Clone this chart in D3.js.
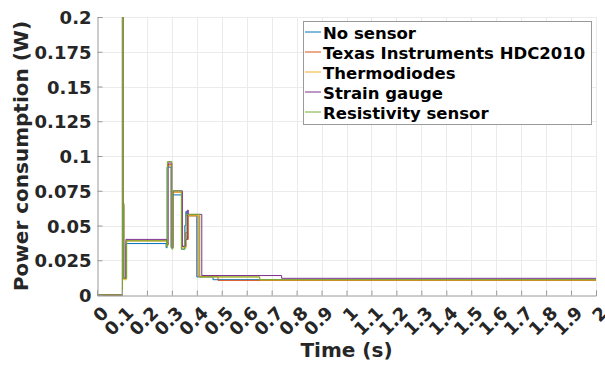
<!DOCTYPE html>
<html>
<head>
<meta charset="utf-8">
<script src="https://cdn.jsdelivr.net/npm/d3@7"></script>
<style>
body { margin: 0; background: #fff; }
text { font-family: "DejaVu Sans", sans-serif; font-weight: bold; }
</style>
</head>
<body>
<div id="graph"></div>
<script>
// series names and colours (MATLAB default order)
var seriesNames = ["No sensor", "Texas Instruments HDC2010", "Thermodiodes", "Strain gauge", "Resistivity sensor"];
var seriesColors = ["#0072BD", "#D95319", "#EDB120", "#7E2F8E", "#77AC30"];

// [time (s), power (W)], step after each point
var noSensor = [[0,0],[0.102,0.26],[0.104,0.064],[0.107,0.012],[0.116,0.037],[0.277,0.034],[0.281,0.092],[0.297,0.034],[0.302,0.072],[0.339,0.033],[0.352,0.05],[0.356,0.06],[0.36,0.057],[0.4,0.013],[0.465,0.011],[2,0.011]];
var hdc2010 = [[0,0],[0.102,0.26],[0.104,0.065],[0.107,0.012],[0.118,0.039],[0.279,0.036],[0.283,0.094],[0.298,0.035],[0.303,0.074],[0.34,0.035],[0.355,0.045],[0.362,0.04],[0.366,0.057],[0.405,0.0135],[0.485,0.0105],[2,0.0105]];
var thermodiodes = [[0,0],[0.102,0.26],[0.104,0.066],[0.107,0.011],[0.117,0.039],[0.28,0.035],[0.284,0.093],[0.299,0.034],[0.304,0.074],[0.341,0.034],[0.357,0.042],[0.363,0.057],[0.41,0.013],[0.652,0.0108],[2,0.0108]];
var strainGauge = [[0,0],[0.102,0.26],[0.104,0.066],[0.107,0.012],[0.116,0.040],[0.28,0.036],[0.285,0.095],[0.3,0.034],[0.305,0.075],[0.342,0.035],[0.356,0.04],[0.362,0.061],[0.366,0.058],[0.42,0.014],[0.74,0.012],[2,0.012]];
var resistivity = [[0,0],[0.102,0.26],[0.104,0.065],[0.107,0.012],[0.119,0.039],[0.279,0.035],[0.282,0.096],[0.3,0.033],[0.304,0.075],[0.338,0.033],[0.352,0.04],[0.357,0.058],[0.412,0.013],[0.652,0.011],[2,0.011]];

var seriesData = [noSensor, hdc2010, thermodiodes, strainGauge, resistivity];

var xTicks = d3.range(0, 21).map(function(i){ return i / 10; });
var yTicks = [0, 0.025, 0.05, 0.075, 0.1, 0.125, 0.15, 0.175, 0.2];
var yTickLabels = ["0", "0.025", "0.05", "0.075", "0.1", "0.125", "0.15", "0.175", "0.2"];

var W = 605, H = 365;
var pLeft = 97, pRight = 596, pTop = 17, pBottom = 295;

var svg = d3.select("#graph").append("svg")
  .attr("width", W).attr("height", H);

var x = d3.scaleLinear().domain([0, 2]).range([pLeft, pRight]);
var y = d3.scaleLinear().domain([0, 0.2]).range([pBottom, pTop]);

// grid
svg.append("g").selectAll("line.gx")
  .data(xTicks.slice(1))
  .enter().append("line")
  .attr("x1", function(d){ return Math.round(x(d)) + 0.5; }).attr("x2", function(d){ return Math.round(x(d)) + 0.5; })
  .attr("y1", pTop).attr("y2", pBottom)
  .attr("stroke", "#ebebeb").attr("stroke-width", 1);
svg.append("g").selectAll("line.gy")
  .data(yTicks.slice(1))
  .enter().append("line")
  .attr("x1", pLeft).attr("x2", pRight)
  .attr("y1", function(d){ return Math.round(y(d)) + 0.5; }).attr("y2", function(d){ return Math.round(y(d)) + 0.5; })
  .attr("stroke", "#ebebeb").attr("stroke-width", 1);

// clip
svg.append("clipPath").attr("id", "clip")
  .append("rect").attr("x", pLeft).attr("y", pTop).attr("width", pRight - pLeft).attr("height", pBottom - pTop + 1);

var line = d3.line()
  .x(function(d){ return x(d[0]); })
  .y(function(d){ return y(d[1]); })
  .curve(d3.curveStepAfter);

svg.append("g").attr("clip-path", "url(#clip)")
  .selectAll("path")
  .data(seriesData)
  .enter().append("path")
  .attr("d", line)
  .attr("fill", "none")
  .attr("stroke", function(d, i){ return seriesColors[i]; })
  .attr("stroke-width", 1);

// x axis
var xAxis = d3.axisBottom(x).tickValues(xTicks).tickSize(-5).tickPadding(0)
  .tickFormat(function(d){ return String(Math.round(d * 10) / 10); });
var gx = svg.append("g").attr("transform", "translate(0," + (pBottom + 0.5) + ")").call(xAxis);
gx.select(".domain").attr("stroke", "#9a9a9a");
gx.selectAll(".tick line").attr("stroke", "#9a9a9a");
gx.selectAll(".tick text")
  .attr("x", 0).attr("y", 0).attr("dy", null)
  .attr("dominant-baseline", "central")
  .attr("text-anchor", "end")
  .attr("transform", "translate(7.5,14) rotate(-45)")
  .attr("fill", "#262626")
  .style("font-size", "18px");

// y axis
var yAxis = d3.axisLeft(y).tickValues(yTicks).tickSize(-5).tickPadding(6)
  .tickFormat(function(d, i){ return yTickLabels[i]; });
var gy = svg.append("g").attr("transform", "translate(" + (pLeft + 0.5) + ",0)").call(yAxis);
gy.select(".domain").attr("stroke", "#9a9a9a");
gy.selectAll(".tick line").attr("stroke", "#9a9a9a");
gy.selectAll(".tick text")
  .attr("x", -6).attr("dy", null)
  .attr("dominant-baseline", "central")
  .attr("fill", "#262626")
  .style("font-size", "18px");
svg.selectAll(".domain").attr("fill", "none");

// axis labels
svg.append("text")
  .attr("x", (pLeft + pRight) / 2).attr("y", 357)
  .attr("text-anchor", "middle")
  .attr("fill", "#262626")
  .style("font-size", "20px")
  .text("Time (s)");
svg.append("text")
  .attr("transform", "translate(28," + ((pTop + pBottom) / 2) + ") rotate(-90)")
  .attr("text-anchor", "middle")
  .attr("fill", "#262626")
  .style("font-size", "20px")
  .text("Power consumption (W)");

// legend
var lg = svg.append("g");
lg.append("rect")
  .attr("x", 303.5).attr("y", 21.5).attr("width", 288).attr("height", 103)
  .attr("fill", "#fff").attr("stroke", "#9a9a9a").attr("stroke-width", 1);
seriesNames.forEach(function(name, i){
  var ry = 32 + i * 20;
  lg.append("line")
    .attr("x1", 305).attr("x2", 321).attr("y1", ry).attr("y2", ry)
    .attr("stroke", seriesColors[i]).attr("stroke-width", 1);
  lg.append("text")
    .attr("x", 323).attr("y", ry + 1)
    .attr("dominant-baseline", "central")
    .attr("fill", "#000")
    .style("font-size", "16.5px")
    .text(name);
});
</script>
</body>
</html>
